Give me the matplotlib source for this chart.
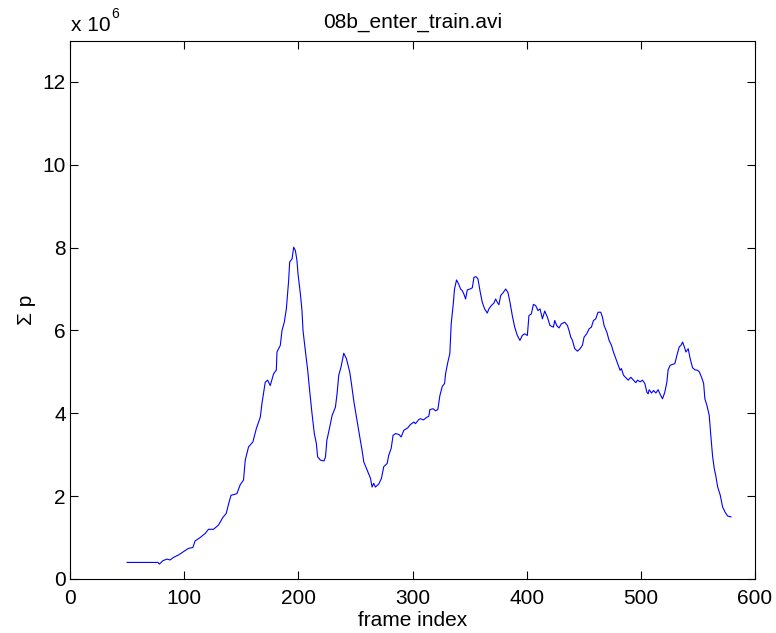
import matplotlib
matplotlib.use("Agg")
import matplotlib.pyplot as plt

frames = [50, 77, 78.3, 81.3, 84.8, 87.7, 90.6, 95, 99.4, 103.8, 107.6, 109.6, 114, 118.4,
          121.3, 125.7, 130, 134, 136.8, 138.9, 141, 146.2, 149, 152, 153.5, 156.4, 160.2,
          163.2, 166.7, 168.1, 171, 173.1, 175.4, 178.4, 180.7, 181.3, 184.2, 185.7, 187.7,
          189.5, 191.5, 192.4, 194.5, 195.9, 197.4, 198.8, 199.7, 201.8, 203.2, 204.1, 206.1,
          208.2, 209.9, 212, 214, 215.8, 216.9, 219.3, 222.5, 223.8, 225, 226.6, 229.6, 232.5,
          233.9, 235.4, 237.4, 239.8, 242.1, 245, 246.5, 248.5, 250.9, 253.8, 255.8, 257.3,
          260.2, 263.2, 264.6, 266, 267.5, 270.4, 272.8, 274.8, 277.8, 279.2, 281.3, 283,
          285.1, 288, 290.1, 292.4, 295.9, 298.2, 301.2, 302.6, 305.5, 307, 309.6, 312.3,
          314.3, 315.2, 318.1, 320.2, 322.2, 324, 326.1, 328.1, 329, 331, 332.7, 333.9, 335.7,
          336.8, 338.6, 340.6, 342.1, 343.6, 345, 346.5, 348, 350.3, 352.4, 353.8, 355.5,
          357.3, 359.1, 361.1, 363.2, 365.5, 366.9, 369, 371.3, 372.8, 374.3, 375.7, 377.2,
          379.6, 381.6, 383.6, 385.4, 387.4, 389.5, 391.8, 394.1, 396.2, 398.2, 400.6, 402,
          404.1, 405.9, 407.9, 409.9, 411.7, 413.8, 415.8, 418.2, 420.4, 423.4, 424.6, 426.3,
          428.3, 430.4, 433.3, 435.7, 437.1, 438.6, 440.1, 442.1, 444.5, 446.8, 448.8, 450.3,
          452.6, 454.7, 456.7, 458.5, 460.5, 462.5, 464.9, 466.4, 467.8, 470.2, 472.2, 474.3,
          476, 478.1, 480.1, 481.8, 483, 484.8, 486.8, 488.9, 491.2, 493.6, 495.6, 497.1,
          499.4, 501.5, 503.5, 505.3, 506.4, 507.3, 509.4, 511.1, 513.2, 515.2, 516.9, 519,
          521, 522.8, 523.9, 525.7, 527.8, 529.8, 531.6, 533.6, 535.1, 536.6, 538, 539.5,
          541.5, 543.2, 545.3, 547.4, 549.7, 551.2, 553.2, 555, 556.1, 557.9, 559.9, 561.4,
          562.9, 564.3, 565.8, 567.3, 569.6, 571.6, 573.7, 576, 579]

sum_p = [0.40, 0.40, 0.36, 0.44, 0.48, 0.46, 0.52, 0.58, 0.66, 0.74, 0.76, 0.92, 1.00, 1.10,
         1.20, 1.20, 1.30, 1.49, 1.58, 1.81, 2.02, 2.06, 2.27, 2.39, 2.87, 3.19, 3.31,
         3.63, 3.91, 4.23, 4.75, 4.80, 4.67, 4.96, 5.04, 5.48, 5.64, 6.00, 6.20,
         6.52, 7.20, 7.65, 7.73, 8.01, 7.93, 7.69, 7.37, 6.88, 6.48, 6.00, 5.52,
         5.04, 4.55, 3.99, 3.51, 3.27, 2.95, 2.87, 2.85, 2.95, 3.35, 3.55, 3.95, 4.15,
         4.47, 4.92, 5.12, 5.45, 5.32, 5.00, 4.72, 4.31, 3.91, 3.43, 3.11, 2.83,
         2.63, 2.43, 2.22, 2.31, 2.22, 2.29, 2.43, 2.71, 2.79, 2.99, 3.15, 3.47,
         3.51, 3.49, 3.43, 3.59, 3.65, 3.73, 3.79, 3.75, 3.85, 3.87, 3.84, 3.90,
         3.93, 4.09, 4.11, 4.06, 4.09, 4.43, 4.65, 4.72, 4.96, 5.24, 5.44, 6.16, 6.64,
         7.00, 7.22, 7.11, 7.00, 6.96, 6.88, 6.76, 6.98, 7.00, 7.03, 7.28, 7.30,
         7.25, 6.96, 6.68, 6.52, 6.42, 6.52, 6.60, 6.66, 6.76, 6.68, 6.62, 6.84,
         6.92, 7.00, 6.92, 6.68, 6.36, 6.08, 5.88, 5.76, 5.88, 5.92, 5.88, 6.36,
         6.40, 6.63, 6.60, 6.48, 6.52, 6.28, 6.47, 6.32, 6.12, 6.08, 6.24, 6.12,
         6.06, 6.16, 6.20, 6.12, 6.00, 5.84, 5.76, 5.56, 5.50, 5.56, 5.64, 5.84,
         5.92, 6.04, 6.08, 6.24, 6.28, 6.44, 6.44, 6.32, 6.12, 5.96, 5.76, 5.64,
         5.48, 5.32, 5.16, 5.04, 5.08, 4.92, 4.86, 4.80, 4.87, 4.80, 4.74, 4.80,
         4.76, 4.80, 4.72, 4.51, 4.47, 4.57, 4.49, 4.55, 4.49, 4.57, 4.46, 4.35,
         4.51, 4.75, 5.05, 5.16, 5.18, 5.20, 5.40, 5.60, 5.64, 5.72, 5.61, 5.48,
         5.56, 5.32, 5.10, 5.05, 5.04, 5.00, 4.87, 4.72, 4.35, 4.19, 3.95, 3.43,
         2.95, 2.67, 2.47, 2.22, 2.02, 1.74, 1.62, 1.52, 1.50]

x_ticks = [0, 100, 200, 300, 400, 500, 600]
y_ticks = [0, 2, 4, 6, 8, 10, 12]
title_text = "08b_enter_train.avi"
x_label = "frame index"
y_label = "Σ p"
scale_exp = "6"

plt.rcParams['font.family'] = ['Liberation Sans', 'DejaVu Sans']

fig = plt.figure(figsize=(7.76, 6.33), dpi=100)
ax = fig.add_axes([70/776, 1 - 579/633, (755-70)/776, (579-40.5)/633])

ax.plot(frames, sum_p, color=(0, 0, 1), linewidth=0.8)

ax.set_xlim(0, 600)
ax.set_ylim(0, 13)
ax.set_xticks(x_ticks)
ax.set_yticks(y_ticks)
ax.set_xticklabels([str(t) for t in x_ticks])
ax.set_yticklabels([str(t) for t in y_ticks])
ax.tick_params(direction='in', length=6, width=0.8, top=True, right=True,
               labelsize=15, colors='black')
ax.tick_params(axis='x', pad=7)
ax.tick_params(axis='y', pad=3)
for s in ax.spines.values():
    s.set_linewidth(0.8)
    s.set_color('black')

ax.set_title(title_text, fontsize=15, pad=9)
ax.set_xlabel(x_label, fontsize=15, labelpad=2)
ax.set_ylabel(y_label, fontsize=15, labelpad=5)

fig.text(71/776, 1 - 31/633, "x 10", fontsize=15, ha='left', va='baseline')
fig.text(111/776, 1 - 18/633, scale_exp, fontsize=10, ha='left', va='baseline')

fig.savefig("out.png", dpi=100)
